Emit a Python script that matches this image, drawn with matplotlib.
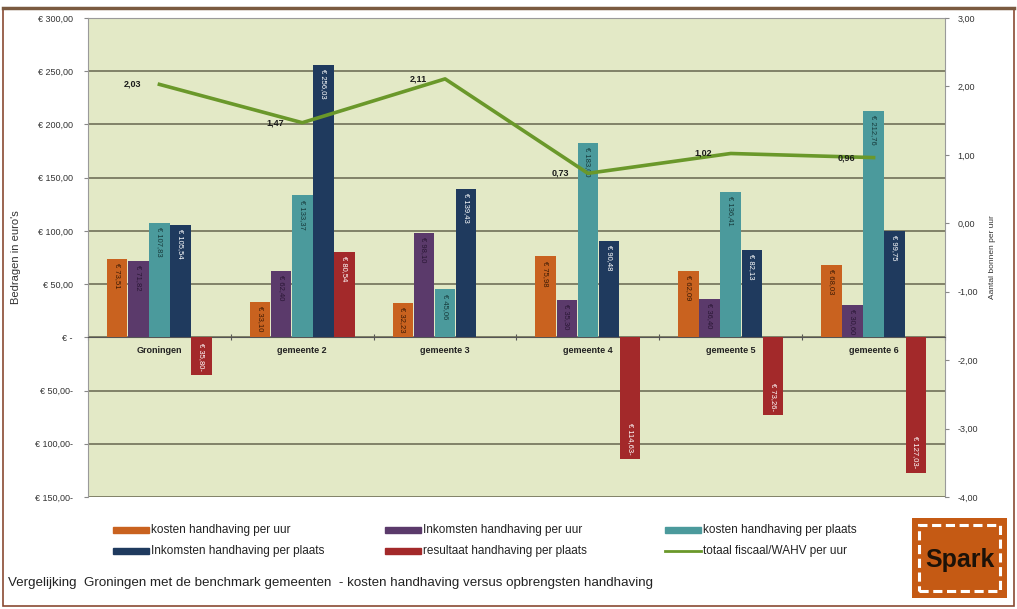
import numpy as np
import matplotlib
matplotlib.use("Agg")
import matplotlib.pyplot as plt
from matplotlib.patches import Rectangle
from matplotlib.lines import Line2D

plt.rcParams['font.family'] = ['Liberation Sans', 'DejaVu Sans']

gemeenten = ["Groningen", "gemeente 2", "gemeente 3", "gemeente 4", "gemeente 5", "gemeente 6"]
kosten_uur = [73.51, 33.10, 32.23, 75.98, 62.09, 68.03]
inkomsten_uur = [71.82, 62.40, 98.10, 35.30, 36.40, 30.60]
kosten_plaats = [107.83, 133.37, 45.06, 183.00, 136.41, 212.76]
inkomsten_plaats = [105.54, 256.03, 139.43, 90.48, 82.13, 99.75]
resultaat_plaats = [-35.80, 80.54, np.nan, -114.63, -73.26, -127.03]
fiscaal_wahv = [2.03, 1.47, 2.11, 0.73, 1.02, 0.96]

reeksen = [
    ("kosten handhaving per uur", kosten_uur, "#c9621f", "#3b1a05"),
    ("Inkomsten handhaving per uur", inkomsten_uur, "#5b3a6b", "#2a1735"),
    ("kosten handhaving per plaats", kosten_plaats, "#4b9a9c", "#173a3b"),
    ("Inkomsten handhaving per plaats", inkomsten_plaats, "#1f3a5e", "white"),
    ("resultaat handhaving per plaats", resultaat_plaats, "#a3292a", "white"),
]
lijn_kleur = "#6a982a"


def euro(v):
    s = f"{abs(v):,.2f}".replace(",", "X").replace(".", ",").replace("X", ".")
    return f"€ {s}-" if v < 0 else f"€ {s}"


def euro_as(v, pos=None):
    if abs(v) < 1e-9:
        return "€ -"
    return euro(v)


fig = plt.figure(figsize=(10.17, 6.09), dpi=100, facecolor="white")
ax = fig.add_axes([88 / 1017, 1 - 497 / 609, 857 / 1017, 479 / 609])
ax.set_facecolor("#e3e9c6")

x = np.arange(len(gemeenten))
breedte = 0.148
for i, (naam, waarden, kleur, tekstkleur) in enumerate(reeksen):
    pos = x + (i - 2) * breedte
    ax.bar(pos, waarden, width=breedte * 0.97, color=kleur, zorder=3)
    for px, v in zip(pos, waarden):
        if np.isnan(v):
            continue
        if v >= 0:
            ax.text(px, v - 4, euro(v), rotation=270, ha="center", va="top",
                    fontsize=5.5, color=tekstkleur, zorder=4)
        else:
            ax.text(px, v + 4, euro(v), rotation=270, ha="center", va="bottom",
                    fontsize=5.5, color=tekstkleur, zorder=4)

ax.set_xlim(-0.5, len(gemeenten) - 0.5)
ax.set_ylim(-150, 300)
ax.set_yticks(np.arange(-150, 301, 50))
ax.yaxis.set_major_formatter(euro_as)
ax.grid(axis="y", color="#66664f", lw=1.1, zorder=1)
ax.tick_params(axis="y", labelsize=6.5, length=3, pad=8, color="#888888", labelcolor="#333333")
ax.set_ylabel("Bedragen in euro's", fontsize=8, color="#333333", labelpad=10)

# categorie-as op de nullijn
ax.spines["bottom"].set_position(("data", 0))
ax.spines["bottom"].set_color("#555555")
ax.set_xticks(np.arange(-0.5, len(gemeenten), 1.0))
ax.set_xticklabels([])
ax.set_xticks(x, minor=True)
ax.set_xticklabels(gemeenten, minor=True, fontsize=6.5, fontweight="bold", color="#222222")
ax.tick_params(axis="x", which="major", direction="inout", length=5, color="#555555")
ax.tick_params(axis="x", which="minor", length=0, pad=6)
for side in ["left", "right", "top"]:
    ax.spines[side].set_color("#9a9a9a")

ax2 = ax.twinx()
ax2.plot(x, fiscaal_wahv, color=lijn_kleur, lw=2.6, zorder=5)
ax2.set_ylim(-4, 3)
ax2.set_yticks(np.arange(-4, 3.1, 1))
ax2.set_yticklabels([f"{v:.2f}".replace(".", ",") for v in np.arange(-4, 3.1, 1)])
ax2.tick_params(axis="y", labelsize=6.5, length=3, pad=6, color="#888888", labelcolor="#333333")
ax2.set_ylabel("Aantal bonnen per uur", fontsize=6, color="#333333", labelpad=8)
for side in ["left", "right", "top", "bottom"]:
    ax2.spines[side].set_visible(False)
for xi, v in zip(x, fiscaal_wahv):
    ax2.text(xi - 0.13, v, f"{v:.2f}".replace(".", ","), ha="right", va="center",
             fontsize=6.5, fontweight="bold", color="#1a1a1a", zorder=6)

# legenda onder de grafiek
legenda_x = [113, 385, 665]
legenda_y = [530, 551]
items = [(n, k, "bar") for n, _, k, _ in reeksen] + [("totaal fiscaal/WAHV per uur", lijn_kleur, "line")]
for j, (naam, kleur, soort) in enumerate(items):
    kx = legenda_x[j % 3]
    ky = legenda_y[j // 3]
    if soort == "bar":
        fig.patches.append(Rectangle((kx / 1017, 1 - (ky + 3) / 609), 36 / 1017, 6 / 609,
                                     transform=fig.transFigure, color=kleur))
    else:
        fig.lines.append(Line2D([kx / 1017, (kx + 36) / 1017], [1 - ky / 609] * 2,
                                transform=fig.transFigure, color=kleur, lw=2))
    fig.text((kx + 38) / 1017, 1 - ky / 609, naam, fontsize=8.5, va="center", color="#222222")

fig.text(8 / 1017, 1 - 583 / 609,
         "Vergelijking  Groningen met de benchmark gemeenten  - kosten handhaving versus opbrengsten handhaving",
         fontsize=9.6, va="center", color="#222222")

# rand rond de figuur
fig.patches.append(Rectangle((3 / 1017, 3 / 609), 1011 / 1017, 597 / 609, transform=fig.transFigure,
                             fill=False, ec="#8a4a32", lw=1.2))
fig.lines.append(Line2D([3 / 1017, 1014 / 1017], [1 - 8 / 609] * 2, transform=fig.transFigure,
                        color="#7a5a40", lw=2.5))

# logo
logo = fig.add_axes([912 / 1017, 1 - 598 / 609, 95 / 1017, 80 / 609])
logo.set_xlim(0, 1)
logo.set_ylim(0, 1)
logo.axis("off")
logo.add_patch(Rectangle((0, 0), 1, 1, color="#c55a14"))
logo.add_patch(Rectangle((0.07, 0.09), 0.86, 0.82, fill=False, ec="white", lw=2.2, ls=(0, (3, 1.5))))
logo.text(0.5, 0.47, "Spark", ha="center", va="center", fontsize=18, fontweight="bold", color="#1c1208")

fig.savefig("out.png", dpi=100, facecolor=fig.get_facecolor())
